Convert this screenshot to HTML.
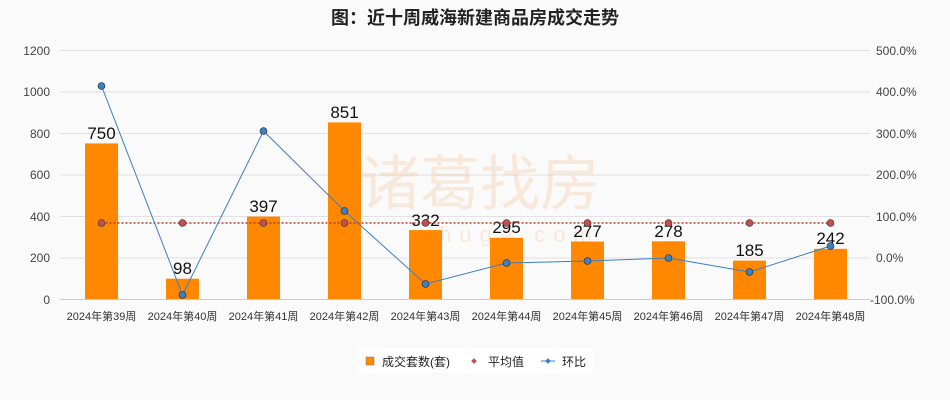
<!DOCTYPE html><html><head><meta charset="utf-8"><style>body{margin:0;background:#fafafa}svg{display:block}</style></head><body>
<svg width="950" height="400" xmlns="http://www.w3.org/2000/svg" font-family="Liberation Sans, Noto Sans CJK SC, sans-serif">
<rect width="950" height="400" fill="#fafafa"/>
<text x="475" y="24" text-anchor="middle" font-size="18" font-weight="bold" fill="#222">图：近十周威海新建商品房成交走势</text>
<g stroke="#e0e0e0" stroke-width="1">
<line x1="60" x2="870" y1="50.5" y2="50.5"/><line x1="60" x2="870" y1="92" y2="92"/><line x1="60" x2="870" y1="133.5" y2="133.5"/><line x1="60" x2="870" y1="175" y2="175"/><line x1="60" x2="870" y1="216.5" y2="216.5"/><line x1="60" x2="870" y1="258" y2="258"/><line x1="60" x2="870" y1="299.5" y2="299.5" stroke="#ccc"/>
</g>
<text x="480" y="205" text-anchor="middle" font-size="60" fill="#f5cfa8" opacity="0.4">诸葛找房</text>
<text x="510" y="242" text-anchor="middle" font-size="22" fill="#f5cfa8" opacity="0.4" letter-spacing="8">zhuge.com</text>
<g font-size="12" fill="#444" text-anchor="end">
<text x="50" y="55">1200</text><text x="50" y="96">1000</text><text x="50" y="138">800</text><text x="50" y="179">600</text><text x="50" y="221">400</text><text x="50" y="262">200</text><text x="50" y="304">0</text>
</g>
<g font-size="12" fill="#444" text-anchor="start">
<text x="876" y="55">500.0%</text><text x="876" y="96">400.0%</text><text x="876" y="138">300.0%</text><text x="876" y="179">200.0%</text><text x="876" y="221">100.0%</text><text x="876" y="262">0.0%</text><text x="870" y="304">-100.0%</text>
</g>
<g fill="#ff8800">
<rect x="85" y="143.4" width="33" height="155.6"/><rect x="166" y="278.7" width="33" height="20.3"/><rect x="247" y="216.6" width="33" height="82.4"/><rect x="328" y="122.4" width="33" height="176.6"/><rect x="409" y="230.1" width="33" height="68.9"/><rect x="490" y="237.8" width="33" height="61.2"/><rect x="571" y="241.5" width="33" height="57.5"/><rect x="652" y="241.3" width="33" height="57.7"/><rect x="733" y="260.6" width="33" height="38.4"/><rect x="814" y="248.8" width="33" height="50.2"/>
</g>
<g font-size="17" fill="#111" text-anchor="middle">
<text x="101.5" y="139">750</text><text x="182.5" y="274">98</text><text x="263.5" y="212">397</text><text x="344.5" y="118">851</text><text x="425.5" y="226">332</text><text x="506.5" y="233">295</text><text x="587.5" y="237">277</text><text x="668.5" y="237">278</text><text x="749.5" y="256">185</text><text x="830.5" y="244">242</text>
</g>
<line x1="101.5" x2="830.5" y1="223" y2="223" stroke="#c0392b" stroke-width="1.5" stroke-dasharray="2,2"/>
<g fill="#c0504d" stroke="#333" stroke-width="0.6">
<circle cx="101.5" cy="223" r="3.5"/><circle cx="182.5" cy="223" r="3.5"/><circle cx="263.5" cy="223" r="3.5"/><circle cx="344.5" cy="223" r="3.5"/><circle cx="425.5" cy="223" r="3.5"/><circle cx="506.5" cy="223" r="3.5"/><circle cx="587.5" cy="223" r="3.5"/><circle cx="668.5" cy="223" r="3.5"/><circle cx="749.5" cy="223" r="3.5"/><circle cx="830.5" cy="223" r="3.5"/>
</g>
<polyline fill="none" stroke="#3b7fc4" stroke-width="1" points="101.5,86 182.5,295 263.5,131 344.5,211 425.5,284 506.5,263 587.5,261 668.5,258 749.5,272 830.5,246"/>
<g fill="#3b7fc4" stroke="#222" stroke-width="0.6">
<circle cx="101.5" cy="86" r="3.5"/><circle cx="182.5" cy="295" r="3.5"/><circle cx="263.5" cy="131" r="3.5"/><circle cx="344.5" cy="211" r="3.5"/><circle cx="425.5" cy="284" r="3.5"/><circle cx="506.5" cy="263" r="3.5"/><circle cx="587.5" cy="261" r="3.5"/><circle cx="668.5" cy="258" r="3.5"/><circle cx="749.5" cy="272" r="3.5"/><circle cx="830.5" cy="246" r="3.5"/>
</g>
<g font-size="11" fill="#333" text-anchor="middle">
<text x="101.5" y="320">2024年第39周</text><text x="182.5" y="320">2024年第40周</text><text x="263.5" y="320">2024年第41周</text><text x="344.5" y="320">2024年第42周</text><text x="425.5" y="320">2024年第43周</text><text x="506.5" y="320">2024年第44周</text><text x="587.5" y="320">2024年第45周</text><text x="668.5" y="320">2024年第46周</text><text x="749.5" y="320">2024年第47周</text><text x="830.5" y="320">2024年第48周</text>
</g>
<rect x="358" y="348" width="235" height="25" fill="#fff"/>
<rect x="366" y="357" width="8" height="8" fill="#ff8800" stroke="#777" stroke-width="0.5"/>
<text x="382" y="366" font-size="12" fill="#222">成交套数(套)</text>
<rect x="472" y="359" width="4" height="4" fill="#c0504d" transform="rotate(45 474 361)"/>
<text x="488" y="366" font-size="12" fill="#222">平均值</text>
<line x1="541" x2="555" y1="361" y2="361" stroke="#3b7fc4"/>
<rect x="546" y="359" width="4" height="4" fill="#3b7fc4" transform="rotate(45 548 361)"/>
<text x="562" y="366" font-size="12" fill="#222">环比</text>
</svg>
</body></html>
